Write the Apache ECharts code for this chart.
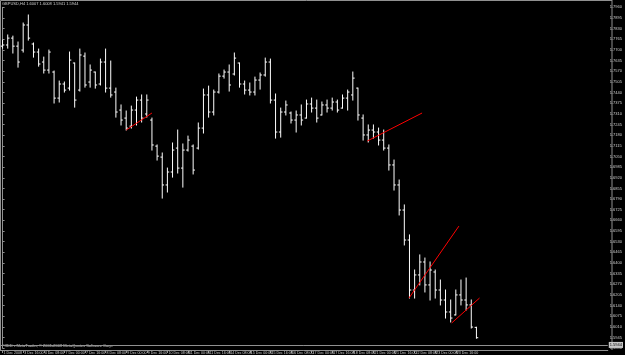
<!DOCTYPE html>
<html><head><meta charset="utf-8">
<script src="https://cdn.jsdelivr.net/npm/echarts@6/dist/echarts.min.js"></script>
<style>html,body{margin:0;padding:0;background:#000;}#c{width:625px;height:355px;}</style>
</head><body><div id="c"></div>
<script>
const chartTitle = 'GBPUSD,H4 1.6007 1.6008 1.5941 1.5944';
const footerText = 'FXDD - MetaTrader, \u00a9 2001-2008 MetaQuotes Software Corp.';
const dateLabels = ['1 Dec 2008','3 Dec 16:00','4 Dec 08:00','7 Dec 00:00','7 Dec 16:00','8 Dec 08:00','9 Dec 00:00','9 Dec 16:00','10 Dec 08:00','11 Dec 00:00','11 Dec 16:00','14 Dec 08:00','15 Dec 00:00','15 Dec 16:00','16 Dec 08:00','17 Dec 00:00','17 Dec 16:00','18 Dec 08:00','21 Dec 00:00','21 Dec 16:00','22 Dec 08:00','23 Dec 00:00','23 Dec 16:00','24 Dec 08:00'];
const openP  = [1.7723,1.7730,1.7772,1.7723,1.7699,1.7852,1.7736,1.7687,1.7626,1.7577,1.7565,1.7406,1.7492,1.7467,1.7620,1.7455,1.7662,1.7504,1.7565,1.7492,1.7626,1.7467,1.7443,1.7333,1.7284,1.7235,1.7333,1.7394,1.7309,1.7272,1.7113,1.7046,1.6876,1.6955,1.7101,1.6979,1.7089,1.7113,1.7101,1.7223,1.7425,1.7321,1.7443,1.7540,1.7565,1.7553,1.7620,1.7492,1.7455,1.7443,1.7516,1.7547,1.7626,1.7394,1.7199,1.7321,1.7315,1.7272,1.7303,1.7284,1.7370,1.7345,1.7303,1.7364,1.7345,1.7382,1.7345,1.7406,1.7425,1.7467,1.7284,1.7181,1.7211,1.7199,1.7150,1.7101,1.6998,1.6876,1.6723,1.6540,1.6235,1.6327,1.6406,1.6266,1.6345,1.6235,1.6174,1.6101,1.6083,1.6205,1.6174,1.6144,1.6007];
const highP  = [1.7760,1.7791,1.7784,1.7748,1.7864,1.7913,1.7742,1.7705,1.7656,1.7699,1.7571,1.7510,1.7504,1.7687,1.7620,1.7705,1.7681,1.7608,1.7565,1.7644,1.7705,1.7632,1.7467,1.7364,1.7327,1.7357,1.7412,1.7425,1.7425,1.7284,1.7120,1.7071,1.6979,1.7132,1.7211,1.7126,1.7174,1.7120,1.7254,1.7461,1.7479,1.7455,1.7553,1.7577,1.7608,1.7681,1.7620,1.7510,1.7498,1.7534,1.7559,1.7650,1.7644,1.7431,1.7345,1.7388,1.7321,1.7327,1.7364,1.7394,1.7406,1.7394,1.7382,1.7394,1.7406,1.7394,1.7425,1.7455,1.7565,1.7467,1.7303,1.7242,1.7242,1.7223,1.7211,1.7120,1.7028,1.6906,1.6754,1.6571,1.6357,1.6449,1.6430,1.6406,1.6357,1.6296,1.6235,1.6174,1.6235,1.6296,1.6308,1.6174,1.6008];
const lowP   = [1.7711,1.7711,1.7681,1.7595,1.7687,1.7760,1.7656,1.7601,1.7559,1.7559,1.7376,1.7382,1.7443,1.7455,1.7351,1.7449,1.7473,1.7473,1.7467,1.7486,1.7443,1.7412,1.7290,1.7242,1.7211,1.7223,1.7242,1.7260,1.7290,1.7089,1.7028,1.6796,1.6833,1.6924,1.6949,1.6863,1.7083,1.6943,1.7095,1.7193,1.7290,1.7303,1.7437,1.7528,1.7449,1.7547,1.7473,1.7431,1.7425,1.7425,1.7461,1.7540,1.7376,1.7162,1.7168,1.7303,1.7254,1.7199,1.7242,1.7284,1.7321,1.7260,1.7303,1.7321,1.7333,1.7321,1.7345,1.7333,1.7394,1.7272,1.7150,1.7138,1.7162,1.7120,1.7089,1.6967,1.6845,1.6693,1.6510,1.6186,1.6186,1.6266,1.6223,1.6174,1.6186,1.6144,1.6064,1.6040,1.6083,1.6144,1.6113,1.6003,1.5941];
const closeP = [1.7730,1.7772,1.7723,1.7626,1.7852,1.7772,1.7687,1.7614,1.7577,1.7687,1.7406,1.7492,1.7455,1.7638,1.7394,1.7669,1.7486,1.7577,1.7486,1.7626,1.7467,1.7425,1.7321,1.7272,1.7223,1.7333,1.7394,1.7284,1.7394,1.7120,1.7052,1.6876,1.6955,1.7089,1.6979,1.7089,1.7150,1.6967,1.7223,1.7425,1.7321,1.7443,1.7540,1.7565,1.7486,1.7650,1.7492,1.7455,1.7443,1.7516,1.7547,1.7626,1.7394,1.7199,1.7321,1.7364,1.7272,1.7303,1.7272,1.7370,1.7345,1.7284,1.7364,1.7345,1.7382,1.7333,1.7406,1.7443,1.7528,1.7303,1.7181,1.7211,1.7199,1.7150,1.7101,1.6998,1.6876,1.6723,1.6540,1.6235,1.6327,1.6406,1.6266,1.6357,1.6235,1.6174,1.6101,1.6064,1.6205,1.6174,1.6144,1.6009,1.5944];
const priceMin = 1.5880;
const priceMax = 1.7960;
const priceStep = 0.0065;
const bidPrice = 1.5944;
const slotCount = 118;
const trendLines = [
  [[24.0, 1.7211], [29.0, 1.7315]],
  [[70.8, 1.7144], [81.45, 1.7315]],
  [[78.9, 1.6186], [88.6, 1.6625]],
  [[87.2, 1.6034], [92.6, 1.6186]]
];

const chart = echarts.init(document.getElementById('c'), null, {renderer: 'canvas'});
const cats = Array.from({length: slotCount}, (_, i) => String(i));
const ohlc = openP.map((o, i) => [i, o, highP[i], lowP[i], closeP[i]]);
const showIdx = (i) => i % 4 === 0 && i / 4 < dateLabels.length;
const FONT = 'Liberation Sans';

function renderBar(params, api) {
  const i = api.value(0);
  const o = api.coord([i, api.value(1)]);
  const h = api.coord([i, api.value(2)]);
  const l = api.coord([i, api.value(3)]);
  const c = api.coord([i, api.value(4)]);
  const x = o[0];
  const st = {stroke: '#ffffff', lineWidth: 1};
  return {type: 'group', children: [
    {type: 'line', shape: {x1: x, y1: h[1] - 0.5, x2: x, y2: l[1] + 0.5}, style: st},
    {type: 'line', shape: {x1: x - 1.8, y1: o[1], x2: x, y2: o[1]}, style: st},
    {type: 'line', shape: {x1: x, y1: c[1], x2: x + 1.8, y2: c[1]}, style: st}
  ]};
}

const series = [{
  type: 'custom', xAxisIndex: 0, yAxisIndex: 0, renderItem: renderBar, data: ohlc,
  encode: {x: 0, y: [1, 2, 3, 4]}, silent: true
}];
trendLines.forEach((tl, k) => {
  series.push({
    type: 'line', xAxisIndex: 1, yAxisIndex: 0, data: tl, showSymbol: false, symbol: 'none',
    lineStyle: {color: '#ff0000', width: 1}, silent: true,
    markLine: k === 0 ? {
      silent: true, symbol: ['none', 'none'], animation: false,
      lineStyle: {color: '#909090', width: 1, type: 'solid'},
      label: {position: 'end', formatter: bidPrice.toFixed(4), fontSize: 4, color: '#000000',
        backgroundColor: '#c8c8c8', padding: [1, 1], distance: 1, fontFamily: FONT},
      data: [{yAxis: bidPrice}]
    } : undefined
  });
});

chart.setOption({
  backgroundColor: '#000000',
  animation: false,
  grid: {left: 0, right: 13, top: 7.3, bottom: 6.8},
  xAxis: [{
    type: 'category', data: cats, boundaryGap: true, offset: 1.8,
    axisLine: {show: true, lineStyle: {color: '#909090'}},
    axisTick: {show: true, interval: showIdx, alignWithLabel: true, length: 3, lineStyle: {color: '#909090'}},
    axisLabel: {interval: showIdx, formatter: (v, i) => dateLabels[i / 4] || '', fontSize: 3.6,
      color: '#d0d0d0', align: 'left', margin: 0.5, fontFamily: FONT, hideOverlap: false, padding: [0, 0, 0, 1]},
    splitLine: {show: false}
  }, {
    type: 'value', min: -0.5, max: slotCount - 0.5, show: false
  }],
  yAxis: [{
    type: 'value', position: 'right', min: priceMin, max: priceMax, interval: priceStep,
    axisLine: {show: true, lineStyle: {color: '#909090'}},
    axisTick: {show: true, length: 2, lineStyle: {color: '#909090'}},
    axisLabel: {fontSize: 4, color: '#d0d0d0', margin: 2, formatter: v => v.toFixed(4), fontFamily: FONT},
    splitLine: {show: false}
  }],
  graphic: [
    {type: 'polyline', shape: {points: [[612, 0.5], [0.5, 0.5], [0.5, 350]]}, style: {stroke: '#909090', lineWidth: 1, fill: null}, silent: true},
    {type: 'line', shape: {x1: 612, y1: 0, x2: 612, y2: 350}, style: {stroke: '#909090', lineWidth: 1}, silent: true},
    {type: 'text', left: 2, top: 2, style: {text: chartTitle, fill: '#d0d0d0', fontSize: 4, fontFamily: FONT}, silent: true},
    {type: 'text', left: 2, top: 343.5, style: {text: footerText, fill: '#d0d0d0', fontSize: 4, fontFamily: FONT}, silent: true}
  ],
  series: series
});
</script></body></html>
